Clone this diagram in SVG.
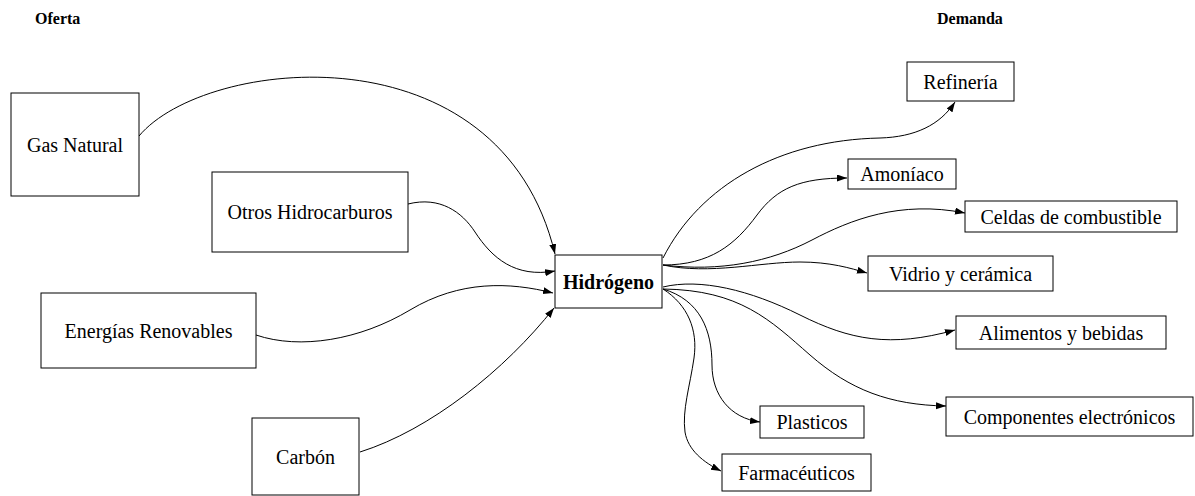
<svg xmlns="http://www.w3.org/2000/svg" width="1195" height="496" viewBox="0 0 1195 496">
<defs>
<style>
.box{fill:#fff;stroke:#000;stroke-width:1}
.t{font-family:"Liberation Serif","Times New Roman",serif;font-size:20px;fill:#000;text-anchor:middle}
.b{font-weight:bold}
.h{font-family:"Liberation Serif","Times New Roman",serif;font-size:16px;font-weight:bold;fill:#000}
.c{fill:none;stroke:#000;stroke-width:1;marker-end:url(#ah)}
</style>
<marker id="ah" markerUnits="userSpaceOnUse" markerWidth="11" markerHeight="8" refX="10" refY="3.5" orient="auto">
<path d="M0,0 L10,3.5 L0,7 z" fill="#000"/>
</marker>
</defs>
<rect width="1195" height="496" fill="#fff"/>
<text class="h" x="35" y="24">Oferta</text>
<text class="h" x="937" y="24">Demanda</text>
<g id="connectors">
<path class="c" d="M139,136 C205,57 500,25 555,254"/>
<path class="c" d="M408,204 C440,196 462,212 475,232 C492,258 515,278 555,271"/>
<path class="c" d="M256,335 C300,350 360,340 410,310 C460,280 510,282 553,293"/>
<path class="c" d="M360,452 C430,430 505,370 554,308"/>
<path class="c" d="M663,258 C700,185 780,140 880,138 C915,137 940,125 955,102"/>
<path class="c" d="M663,265 C710,265 735,245 757,215 C777,188 800,178 847,178"/>
<path class="c" d="M663,265 C720,272 770,262 812,240 C850,220 900,200 965,213"/>
<path class="c" d="M663,265 C710,275 760,262 800,262 C830,262 850,268 867,273"/>
<path class="c" d="M663,287 C700,278 750,290 800,315 C850,340 890,348 955,330"/>
<path class="c" d="M663,289 C740,290 770,320 810,355 C850,390 890,405 946,406"/>
<path class="c" d="M663,289 C700,300 712,330 712,365 C712,395 730,418 760,422"/>
<path class="c" d="M663,289 C688,305 698,330 694,358 C690,386 682,410 685,432 C688,450 703,462 721,471"/>
</g>
<g id="gas-natural"><rect class="box" x="11" y="93" width="128" height="103"/><text class="t" x="75" y="151.5">Gas Natural</text></g>
<g id="otros-hidrocarburos"><rect class="box" x="212" y="172" width="196" height="80"/><text class="t" x="310" y="219">Otros Hidrocarburos</text></g>
<g id="energias-renovables"><rect class="box" x="41" y="293" width="215" height="75"/><text class="t" x="148.5" y="337.5">Energías Renovables</text></g>
<g id="carbon"><rect class="box" x="252" y="418" width="107" height="77"/><text class="t" x="305.5" y="463.5">Carbón</text></g>
<g id="hidrogeno"><rect class="box" x="555" y="255" width="107" height="53"/><text class="t b" x="608.5" y="288.5">Hidrógeno</text></g>
<g id="refineria"><rect class="box" x="907" y="62" width="107" height="39"/><text class="t" x="960.5" y="88.5">Refinería</text></g>
<g id="amoniaco"><rect class="box" x="848" y="159" width="108" height="30"/><text class="t" x="902" y="181">Amoníaco</text></g>
<g id="celdas"><rect class="box" x="965" y="201" width="212" height="31"/><text class="t" x="1071" y="223.5">Celdas de combustible</text></g>
<g id="vidrio"><rect class="box" x="868" y="256" width="185" height="35"/><text class="t" x="960.5" y="280.5">Vidrio y cerámica</text></g>
<g id="alimentos"><rect class="box" x="956" y="316" width="210" height="33"/><text class="t" x="1061" y="339.5">Alimentos y bebidas</text></g>
<g id="componentes"><rect class="box" x="946" y="397" width="247" height="39"/><text class="t" x="1069.5" y="423.5">Componentes electrónicos</text></g>
<g id="plasticos"><rect class="box" x="760" y="406" width="104" height="32"/><text class="t" x="812" y="429">Plasticos</text></g>
<g id="farmaceuticos"><rect class="box" x="722" y="454" width="149" height="37"/><text class="t" x="796.5" y="479.5">Farmacéuticos</text></g>
</svg>
